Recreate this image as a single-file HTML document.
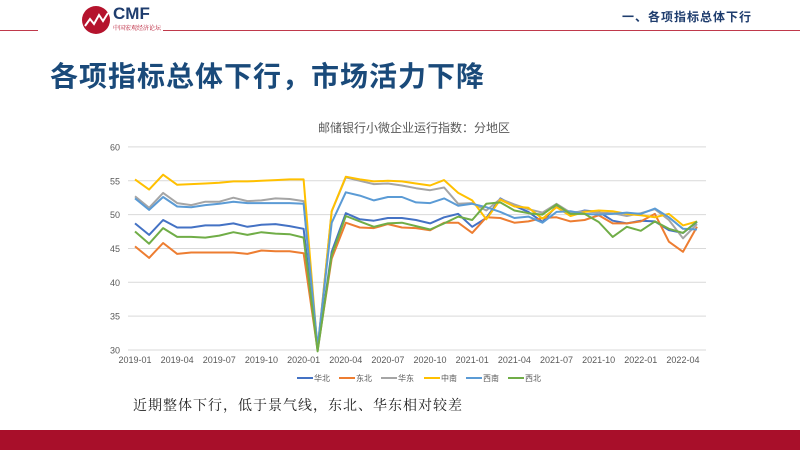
<!DOCTYPE html>
<html><head><meta charset="utf-8"><style>
body{margin:0;width:800px;height:450px;overflow:hidden;background:#fff;font-family:"Liberation Sans","Noto Sans CJK SC",sans-serif;position:relative}
.a{position:absolute}
</style></head><body>
<div class="a" style="left:0;top:30px;width:38px;height:1px;background:#c0394b"></div>
<div class="a" style="left:118px;top:30px;width:682px;height:1px;background:#c0394b"></div>
<svg class="a" style="left:80px;top:4px" width="40" height="32"><circle cx="16" cy="16" r="14" fill="#b5132d"/><polyline points="5,22 10,15 14,20 19,11 23,17 28,9" fill="none" stroke="#fff" stroke-width="2"/></svg>
<div class="a" style="left:110px;top:4px;font-size:17px;font-weight:bold;color:#1f3d6e;background:#fff;padding:0 3px">CMF</div>
<div class="a" style="left:111px;top:23px;font-size:6px;color:#b5132d;background:#fff;padding:0 2px;font-family:'Noto Serif CJK SC',serif">中国宏观经济论坛</div>
<div class="a" style="left:622px;top:8px;font-size:12px;font-weight:bold;color:#1f3d6e;letter-spacing:1px">一、各项指标总体下行</div>
<div class="a" style="left:50px;top:55px;font-size:28px;font-weight:bold;color:#1a4a7a;letter-spacing:1px">各项指标总体下行，市场活力下降</div>
<div class="a" style="left:0;top:119px;width:828px;text-align:center;font-size:12px;color:#595959">邮储银行小微企业运行指数：分地区</div>
<svg class="a" style="left:0;top:0" width="800" height="450" id="c"></svg>
<div class="a" style="left:133px;top:395px;font-size:14px;color:#222;letter-spacing:1px;font-family:'Noto Serif CJK SC',serif">近期整体下行，低于景气线，东北、华东相对较差</div>
<div class="a" style="left:0;top:430px;width:800px;height:20px;background:#a80f2a"></div>
<script>
var s=document.getElementById('c'),h='';
function Y(v){return 350-(v-30)*6.77;}
function X(i){return 135+i*14.05;}
for(var v=30;v<=60;v+=5){var y=Y(v);h+='<line x1="128" x2="706" y1="'+y+'" y2="'+y+'" stroke="#d9d9d9" stroke-width="1"/>';
h+='<text x="120" y="'+(y+3.5)+'" font-size="9" fill="#595959" text-anchor="end">'+v+'</text>';}
var L=['2019-01','2019-04','2019-07','2019-10','2020-01','2020-04','2020-07','2020-10','2021-01','2021-04','2021-07','2021-10','2022-01','2022-04'];
for(var k=0;k<L.length;k++)h+='<text x="'+X(k*3)+'" y="363" font-size="9" fill="#595959" text-anchor="middle">'+L[k]+'</text>';
var D=[
['华北','#4472c4',[48.7,47.0,49.2,48.1,48.1,48.4,48.4,48.7,48.2,48.5,48.6,48.3,47.9,30,44.5,50.2,49.3,49.1,49.5,49.5,49.2,48.7,49.6,50.1,48.2,49.5,52.4,51.3,50.4,48.9,51.3,50.1,50.6,50.4,49.1,48.7,49.1,49.0,47.7,47.3,48.9]],
['东北','#ed7d31',[45.3,43.6,45.8,44.2,44.4,44.4,44.4,44.4,44.2,44.7,44.6,44.6,44.3,30,43.5,48.8,48.1,48.0,48.6,48.1,48.0,47.7,48.8,48.8,47.3,49.6,49.5,48.8,49.0,49.5,49.6,49.0,49.2,49.9,48.7,48.7,49.0,50.1,46.0,44.5,48.2]],
['华东','#a5a5a5',[52.7,51.0,53.2,51.7,51.4,51.9,51.9,52.5,52.0,52.1,52.4,52.3,52.0,30,50.5,55.5,55.0,54.5,54.6,54.3,53.9,53.6,54.0,51.6,51.7,50.6,52.3,51.5,50.8,50.3,51.6,50.3,50.5,50.3,50.2,49.8,50.2,50.8,49.2,46.5,48.6]],
['中南','#ffc000',[55.2,53.7,55.9,54.4,54.5,54.6,54.7,54.9,54.9,55.0,55.1,55.2,55.2,30,50.5,55.6,55.2,54.9,55.0,54.9,54.6,54.3,55.1,53.2,52.1,49.3,52.2,51.2,51.0,49.4,51.1,49.8,50.4,50.6,50.5,50.1,49.9,49.6,50.1,48.4,49.0]],
['西南','#5b9bd5',[52.4,50.7,52.6,51.2,51.1,51.4,51.6,51.9,51.7,51.7,51.7,51.7,51.6,30.5,48.8,53.3,52.8,52.1,52.6,52.6,51.8,51.7,52.4,51.3,51.6,51.1,50.4,49.5,49.7,48.8,50.4,50.5,50.1,50.0,50.1,50.3,50.1,50.9,49.6,47.9,47.8]],
['西北','#70ad47',[47.5,45.7,48.0,46.7,46.7,46.6,46.9,47.4,47.0,47.4,47.2,47.1,46.6,29.8,44.0,49.8,49.0,48.2,48.7,48.8,48.3,47.8,48.7,49.7,49.2,51.6,51.8,50.6,50.2,50.0,51.5,50.1,50.1,48.9,46.7,48.2,47.6,49.0,47.9,47.3,49.0]]];
var lx=[297,339,381,424,466,508];
D.forEach(function(d,j){var p=d[2].map(function(v,i){return X(i).toFixed(1)+','+Y(v).toFixed(1)}).join(' ');
h+='<polyline points="'+p+'" fill="none" stroke="'+d[1]+'" stroke-width="2" stroke-linejoin="round"/>';
h+='<line x1="'+lx[j]+'" x2="'+(lx[j]+16)+'" y1="378" y2="378" stroke="'+d[1]+'" stroke-width="2"/>';
h+='<text x="'+(lx[j]+17)+'" y="381" font-size="8" fill="#595959">'+d[0]+'</text>';});
s.innerHTML=h;
</script>
</body></html>
